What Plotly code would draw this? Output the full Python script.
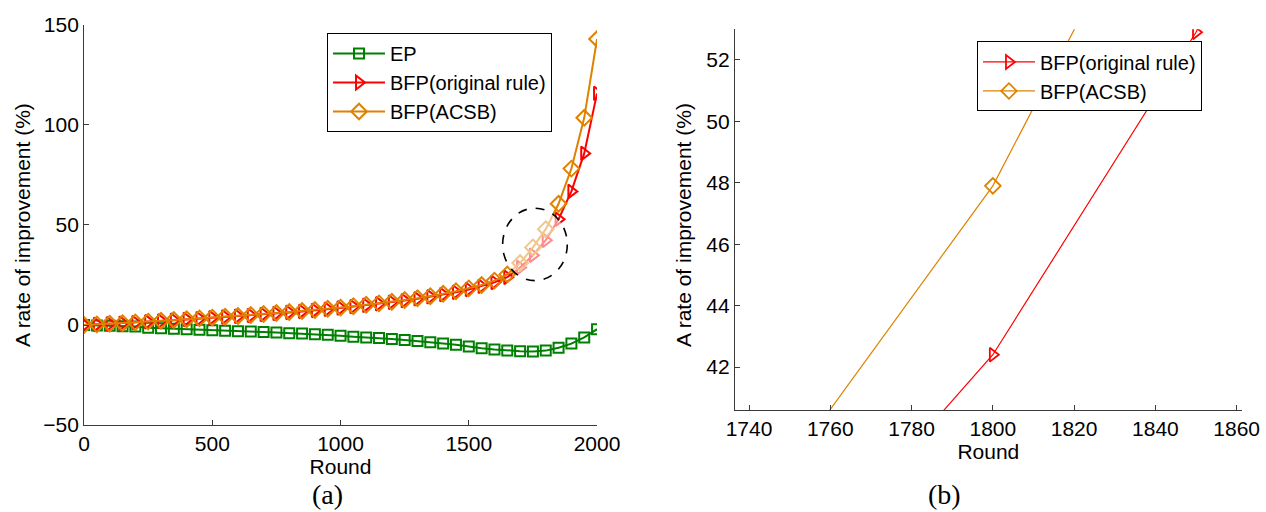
import plotly.graph_objects as go

# Rounds sampled every 50 from 0 to 2000
rounds = list(range(0, 2001, 50))

# Rate of improvement (%) per round
ep = [0.0, -0.2, -0.4, -0.6, -0.8, -1.4, -1.6, -1.9, -2.1, -2.4,
      -2.6, -2.9, -3.1, -3.3, -3.5, -3.8, -4.1, -4.3, -4.6, -4.9,
      -5.4, -5.9, -6.2, -6.5, -7.0, -7.5, -8.0, -8.6, -9.2, -9.9,
      -10.8, -11.6, -12.2, -12.8, -13.1, -13.2, -12.8, -11.4, -9.3, -6.2,
      -2.1]
bfp_original = [0.0, 0.3, 0.6, 0.9, 1.2, 1.6, 2.0, 2.4, 2.8, 3.2,
                3.6, 4.0, 4.4, 4.8, 5.3, 5.8, 6.3, 6.8, 7.3, 7.9,
                8.5, 9.2, 9.9, 10.6, 11.4, 12.2, 13.1, 14.1, 15.2, 16.4,
                17.8, 19.4, 21.3, 23.9, 28.8, 34.9, 42.4, 52.9, 66.8, 85.8,
                115.8]
bfp_acsb = [0.0, 0.3, 0.6, 0.9, 1.3, 1.7, 2.1, 2.5, 2.9, 3.3,
            3.7, 4.1, 4.5, 5.0, 5.5, 6.0, 6.5, 7.0, 7.5, 8.1,
            8.7, 9.4, 10.1, 10.8, 11.6, 12.5, 13.4, 14.4, 15.6, 16.9,
            18.3, 20.0, 22.2, 25.3, 31.0, 38.8, 47.9, 60.6, 78.2, 103.6,
            143.0]

series_names = ["EP", "BFP(original rule)", "BFP(ACSB)"]
x_ticks_a = [0, 500, 1000, 1500, 2000]
y_ticks_a = [-50, 0, 50, 100, 150]
x_ticks_b = [1740, 1760, 1780, 1800, 1820, 1840, 1860]
y_ticks_b = [42, 44, 46, 48, 50, 52]

GREEN = "#008000"
RED = "#FF0000"
ORANGE = "#DE8200"
FONT = "Liberation Sans, Arial, sans-serif"
SERIF = "Liberation Serif, Times New Roman, serif"
AXIS_COL = "#3a3a3a"

fig = go.Figure()

# Panel (a): full run
fig.add_trace(go.Scatter(
    x=rounds, y=ep, name=series_names[0], mode="lines+markers",
    line=dict(color=GREEN, width=2),
    marker=dict(symbol="square-open", size=10, color=GREEN, line=dict(width=2)),
    xaxis="x", yaxis="y", legend="legend"))
fig.add_trace(go.Scatter(
    x=rounds, y=bfp_original, name=series_names[1], mode="lines+markers",
    line=dict(color=RED, width=2),
    marker=dict(symbol="triangle-right-open", size=12, color=RED, line=dict(width=2)),
    xaxis="x", yaxis="y", legend="legend"))
fig.add_trace(go.Scatter(
    x=rounds, y=bfp_acsb, name=series_names[2], mode="lines+markers",
    line=dict(color=ORANGE, width=2),
    marker=dict(symbol="diamond-open", size=12, color=ORANGE, line=dict(width=2)),
    xaxis="x", yaxis="y", legend="legend"))

# Panel (b): close-up around round 1800
fig.add_trace(go.Scatter(
    x=rounds, y=bfp_original, name=series_names[1], mode="lines+markers",
    line=dict(color=RED, width=1.2),
    marker=dict(symbol="triangle-right-open", size=12, color=RED, line=dict(width=1.8)),
    xaxis="x2", yaxis="y2", legend="legend2"))
fig.add_trace(go.Scatter(
    x=rounds, y=bfp_acsb, name=series_names[2], mode="lines+markers",
    line=dict(color=ORANGE, width=1.2),
    marker=dict(symbol="diamond-open", size=12, color=ORANGE, line=dict(width=1.8)),
    xaxis="x2", yaxis="y2", legend="legend2"))

axis_common = dict(
    showline=True, linecolor=AXIS_COL, linewidth=1, mirror=False,
    ticks="inside", ticklen=5, tickcolor=AXIS_COL, tickwidth=1,
    showgrid=False, zeroline=False, automargin=False,
    tickfont=dict(family=FONT, size=21, color="black"),
)
title_font = dict(family=FONT, size=21, color="black")

legend_common = dict(
    xanchor="left", yanchor="top",
    bgcolor="white", bordercolor="black", borderwidth=1,
    font=dict(family=FONT, size=20, color="black"),
    tracegroupgap=0, itemwidth=52,
)

y_title = "A rate of improvement (%)"

fig.update_layout(
    width=1266, height=512,
    margin=dict(l=0, r=0, t=0, b=0, autoexpand=False),
    paper_bgcolor="white", plot_bgcolor="white",
    font=dict(family=FONT, size=21, color="black"),
    xaxis=dict(domain=[0.0664, 0.4716], range=[0, 2000], tickvals=x_ticks_a,
               title=dict(text="Round", font=title_font, standoff=4),
               anchor="y", **axis_common),
    yaxis=dict(domain=[0.1699, 0.9512], range=[-50, 150], tickvals=y_ticks_a,
               anchor="x", **axis_common),
    xaxis2=dict(domain=[0.5804, 0.9810], range=[1736.5, 1861.3], tickvals=x_ticks_b,
                title=dict(text="Round", font=title_font, standoff=4),
                anchor="y2", **axis_common),
    yaxis2=dict(domain=[0.1992, 0.9430], range=[40.6, 53.0], tickvals=y_ticks_b,
                anchor="x2", **axis_common),
    legend=dict(x=0.2583, y=0.9355, **legend_common),
    legend2=dict(x=0.7717, y=0.919, **legend_common),
    shapes=[
        # magnified region marker: washes out the enclosed segment
        dict(type="circle", xref="x", yref="y", x0=1632, x1=1884, y0=22.2, y1=58.4,
             fillcolor="rgba(255,255,255,0.55)", layer="above",
             line=dict(color="black", width=1.6, dash="dash")),
    ],
    annotations=[
        # vertical axis titles
        dict(text=y_title, x=0.0174, y=0.5605, xref="paper", yref="paper",
             xanchor="center", yanchor="middle",
             textangle=-90, showarrow=False, font=title_font),
        dict(text=y_title, x=0.5395, y=0.5605, xref="paper", yref="paper",
             xanchor="center", yanchor="middle",
             textangle=-90, showarrow=False, font=title_font),
        # panel captions
        dict(text="(a)", x=0.2449, y=0.0, xref="paper", yref="paper",
             yanchor="bottom", showarrow=False,
             font=dict(family=SERIF, size=28, color="black")),
        dict(text="(b)", x=0.7607, y=0.0, xref="paper", yref="paper",
             yanchor="bottom", showarrow=False,
             font=dict(family=SERIF, size=28, color="black")),
    ],
)

fig.write_html("out.html")
